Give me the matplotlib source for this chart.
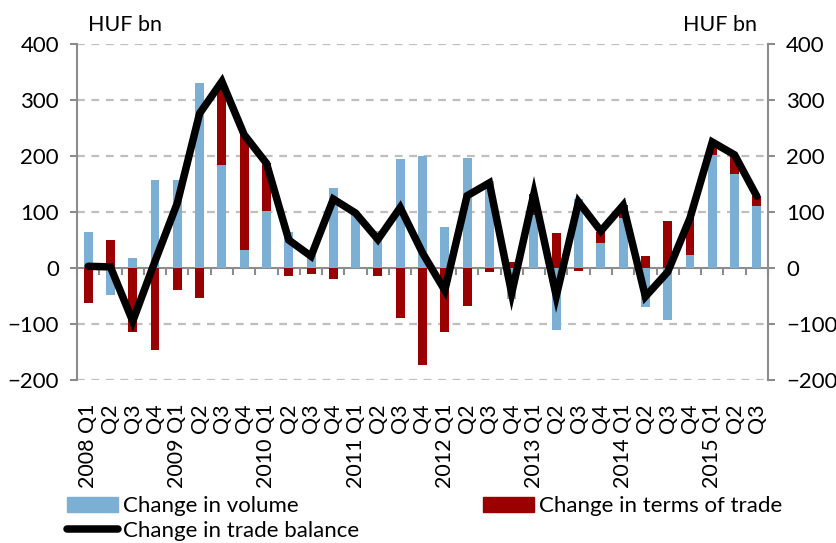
import numpy as np
import matplotlib.pyplot as plt
from matplotlib.lines import Line2D
from matplotlib.patches import Patch

plt.rcParams['font.family'] = ['Lato', 'DejaVu Sans']

# ================= data (HUF bn) =================
labels = ['2008 Q1', 'Q2', 'Q3', 'Q4',
          '2009 Q1', 'Q2', 'Q3', 'Q4',
          '2010 Q1', 'Q2', 'Q3', 'Q4',
          '2011 Q1', 'Q2', 'Q3', 'Q4',
          '2012 Q1', 'Q2', 'Q3', 'Q4',
          '2013 Q1', 'Q2', 'Q3', 'Q4',
          '2014 Q1', 'Q2', 'Q3', 'Q4',
          '2015 Q1', 'Q2', 'Q3']
volume = [64, -49, 18, 157,
          157, 330, 184, 33,
          102, 64, 30, 142,
          94, 66, 195, 200,
          74, 196, 156, -56,
          95, -111, 124, 45,
          89, -70, -92, 23,
          202, 167, 110]
terms = [-62, 50, -114, -146,
         -40, -54, 149, 205,
         85, -14, -10, -20,
         4, -15, -89, -174,
         -114, -67, -7, 11,
         38, 62, -6, 20,
         23, 21, 84, 66,
         22, 35, 18]
balance = [3, 2, -95, 12,
           116, 276, 333, 238,
           187, 50, 21, 123,
           98, 51, 108, 27,
           -40, 129, 152, -45,
           133, -50, 118, 66,
           112, -51, -7, 89,
           225, 202, 128]

C_VOL = '#7BAFD4'
C_TOT = '#9B0000'
C_GRID = '#BFBFBF'
C_AX = '#8C8C8C'

x = np.arange(len(labels))
vol = np.array(volume, float)
tot = np.array(terms, float)

# excel-like stacking: positives up, negatives down
vol_base = np.zeros_like(vol)
tot_base = np.where(np.sign(tot) == np.sign(vol), vol, 0.0)

fig = plt.figure(figsize=(8.36, 5.43), dpi=100)
ax = fig.add_axes([77/836, 1-380/543, (768-77)/836, (380-44)/543])

w = 0.4
ax.bar(x, vol, w, bottom=vol_base, color=C_VOL, zorder=2)
ax.bar(x, tot, w, bottom=tot_base, color=C_TOT, zorder=2)
ax.plot(x, balance, color='black', lw=5.4, solid_joinstyle='miter',
        solid_capstyle='round', zorder=3)

ax.set_xlim(-0.5, len(labels) - 0.5)
ax.set_ylim(-200, 400)
ax.set_yticks(np.arange(-200, 401, 100))
for v in [-200, -100, 100, 200, 300, 400]:
    ax.axhline(v, color=C_GRID, lw=1.6, ls=(0, (3.5, 3)), zorder=1)

for s in ['top', 'right', 'bottom']:
    ax.spines[s].set_visible(False)
ax.spines['left'].set_color(C_AX)
ax.spines['left'].set_linewidth(1.5)
ax.tick_params(axis='y', colors=C_AX, length=5, width=1.5, labelsize=16,
               labelcolor='black', pad=8)

ax.set_xticks(x)
ax.set_xticklabels(labels, rotation=90, fontsize=15.5)
ax.tick_params(axis='x', length=0, pad=17)

# zero axis with ticks between categories
zx = ax.secondary_xaxis(200/600)
zx.set_xticks(np.arange(-0.5, len(labels), 1.0))
zx.set_xticklabels([])
zx.spines['bottom'].set_color(C_AX)
zx.spines['bottom'].set_linewidth(1.5)
zx.tick_params(axis='x', colors=C_AX, length=5, width=1.5)

ax2 = ax.twinx()
ax2.set_ylim(-200, 400)
ax2.set_yticks(np.arange(-200, 401, 100))
for s in ['top', 'left', 'bottom']:
    ax2.spines[s].set_visible(False)
ax2.spines['right'].set_color(C_AX)
ax2.spines['right'].set_linewidth(1.5)
ax2.tick_params(axis='y', colors=C_AX, length=5, width=1.5, labelsize=16,
                labelcolor='black', pad=8)

fig.text(88/836, 1-31/543, 'HUF bn', fontsize=15.5, va='baseline', ha='left')
fig.text(757/836, 1-31/543, 'HUF bn', fontsize=15.5, va='baseline', ha='right')

handles = [Patch(color=C_VOL, label='Change in volume'),
           Line2D([0], [0], color='black', lw=5.4, solid_capstyle='round',
                  label='Change in trade balance'),
           Patch(color=C_TOT, label='Change in terms of trade')]
fig.legend(handles=handles, ncol=2, loc='upper left',
           bbox_to_anchor=(56/836, 1-485/543), frameon=False, fontsize=16,
           handlelength=2.3, handleheight=0.63, handletextpad=0.2,
           columnspacing=5.6, labelspacing=0.2, borderpad=0)

plt.savefig('out.png', dpi=100)
